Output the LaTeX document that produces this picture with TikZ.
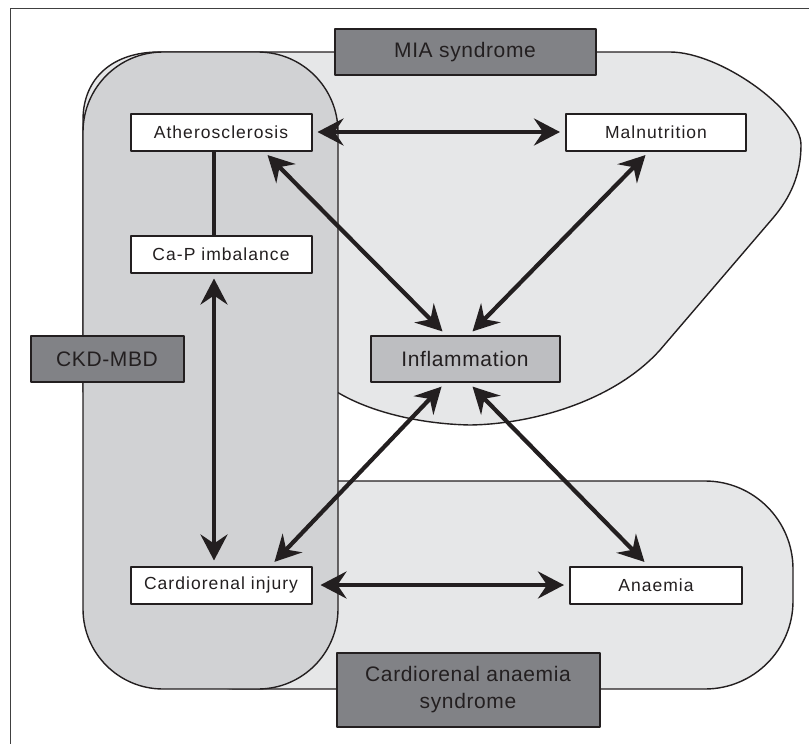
\documentclass[tikz,border=0pt]{standalone}
\usepackage{fontspec}
\setmainfont{Liberation Sans}
\newfontfamily\boxfont{Liberation Sans}[LetterSpace=6]
\newfontfamily\tagfont{Liberation Sans}[LetterSpace=3]
\usetikzlibrary{arrows.meta}
\definecolor{inkc}{HTML}{231F20}
\definecolor{tagc}{HTML}{818286}
\definecolor{infc}{HTML}{BDBEC1}
\definecolor{ckdc}{HTML}{D1D2D4}
\definecolor{zonec}{HTML}{E6E7E8}
\begin{document}
\begin{tikzpicture}[x=1pt, y=-1pt, line join=round,
	>={Stealth[length=26pt,width=27pt,inset=9pt]},
	zone/.style={draw=inkc, line width=1.4pt},
	item/.style={draw=inkc, fill=white, line width=2pt, minimum width=181pt, minimum height=37pt, inner sep=0pt, text=inkc, font=\boxfont\fontsize{17.5}{20}\selectfont},
	tag/.style={draw=inkc, fill=tagc, line width=2pt, minimum height=46pt, inner sep=0pt, text=inkc, align=center, font=\tagfont\fontsize{21}{27}\selectfont},
	link/.style={<->, draw=inkc, line width=4.2pt, shorten <=5pt, shorten >=5pt}] %MIA / CKD-MBD / cardiorenal anaemia
	\useasboundingbox (0,0) rectangle (809,744);
	\begin{scope}
		\clip (0,0) rectangle (809,744);
		\draw[line width=1pt, black!75] (10,8) rectangle (830,770);
	\end{scope}
	% zones
	\draw[zone, fill=zonec] (337,392) -- (83,392) -- (83,120) .. controls (83,77) and (114,52) .. (159,52) -- (670,52) .. controls (720,52) and (801,110) .. (801,145) .. controls (801,175) and (790,198) .. (773,218) -- (660,350) .. controls (615,400) and (535,424) .. (470,425) .. controls (420,424) and (370,412) .. (337,392) -- cycle;
	\draw[zone, fill=zonec, rounded corners=88pt] (150,481) rectangle (793,689);
	\draw[zone, fill=ckdc, rounded corners=80pt] (83,52) rectangle (338,689);
	% labels of the zones
	\node[tag, minimum width=261pt] (mia) at (465,52) {MIA syndrome};
	\node[tag, minimum width=153pt] (ckd) at (107,359) {CKD-MBD};
	\node[tag, minimum width=263pt, minimum height=74pt] (cra) at (468,690) {Cardiorenal anaemia\\syndrome};
	% boxes
	\node[item] (ath) at (221,132) {Atherosclerosis};
	\node[item] (cap) at (221,254) {Ca-P imbalance};
	\node[item, minimum width=180pt] (mal) at (656,132) {Malnutrition};
	\node[tag, fill=infc, minimum width=189pt] (inf) at (465,359) {Inflammation};
	\node[item] (cri) at (221,585) {Cardiorenal injury};
	\node[item, minimum width=172pt] (ana) at (656,585) {Anaemia};
	% links
	\draw[draw=inkc, line width=4pt] ([xshift=-7pt]ath.south) -- ([xshift=-7pt]cap.north);
	\draw[link] (ath.east) -- (mal.west);
	\draw[link] ([xshift=43pt]ath.south) -- ([xshift=-19pt]inf.north);
	\draw[link] ([xshift=-7pt]mal.south) -- ([xshift=4pt]inf.north);
	\draw[link] ([xshift=-7pt]cap.south) -- ([xshift=-7pt]cri.north);
	\draw[link] ([xshift=-20pt]inf.south) -- ([xshift=50pt]cri.north);
	\draw[link] ([xshift=4pt]inf.south) -- ([xshift=-8pt]ana.north);
	\draw[link, shorten <=8pt] (cri.east) -- (ana.west);
\end{tikzpicture}
\end{document}
